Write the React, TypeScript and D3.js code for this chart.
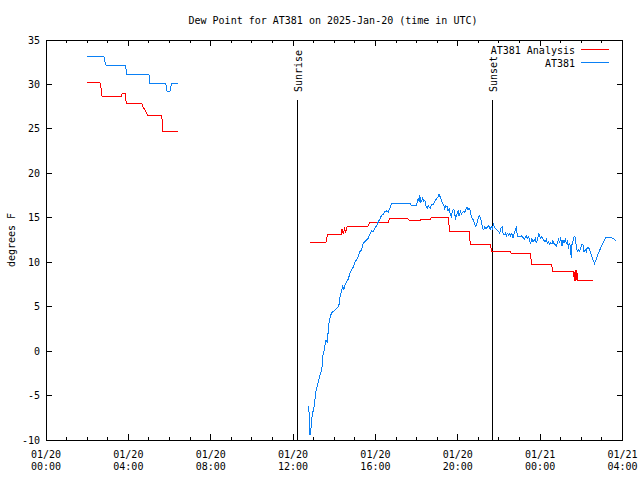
import React, { useEffect } from "react";
import * as d3 from "d3";

// ---- Data (hours since 2025-01-20 00:00 UTC, dew point °F) ----
const analysisSeg1: [number, number][] = [
  [2.0, 30.24], [2.62, 30.24], [2.66, 29.8], [2.72, 28.67], [3.66, 28.67], [3.7, 28.96],
  [3.84, 28.96], [3.9, 27.88], [4.65, 27.88], [4.72, 27.4], [4.82, 27.1], [4.92, 26.56],
  [5.62, 26.56], [5.68, 24.76], [6.39, 24.76],
];
const analysisSeg2: [number, number][] = [
  [12.82, 12.24], [13.6, 12.24], [13.66, 13.0], [13.71, 13.14], [14.33, 13.14], [14.38, 13.74],
  [14.44, 13.2], [14.5, 13.74], [14.56, 13.35], [14.63, 14.07], [15.64, 14.07], [15.73, 14.49],
  [16.62, 14.49], [16.7, 14.94], [17.56, 14.94], [17.62, 14.75], [17.8, 14.67], [18.16, 14.67],
  [18.19, 14.82], [18.67, 14.82], [18.72, 15.05], [19.53, 15.05], [19.61, 13.44], [20.55, 13.44],
  [20.61, 12.01], [21.58, 12.01], [21.65, 11.23], [22.55, 11.23], [22.6, 10.93], [23.52, 10.93],
  [23.6, 9.8], [24.54, 9.8], [24.62, 8.98], [25.62, 8.98], [25.66, 7.9], [25.7, 9.1],
  [25.74, 7.9], [25.78, 9.1], [25.82, 7.89], [26.59, 7.89],
];
const stationSeg1: [number, number][] = [
  [2.0, 33.1], [2.82, 33.1], [2.86, 32.6], [2.92, 32.1], [3.87, 32.1], [3.92, 31.1],
  [5.0, 31.1], [5.05, 30.1], [5.82, 30.1], [5.88, 29.2], [6.02, 29.2], [6.1, 30.1], [6.39, 30.1],
];
const stationSeg2: [number, number][] = [
  [12.74, -6.17], [12.78, -7.0], [12.82, -9.44], [12.87, -8.69], [12.9, -7.75], [12.95, -7.0],
  [13.02, -6.25], [13.07, -5.31], [13.11, -4.49], [13.18, -3.93], [13.24, -3.25], [13.31, -2.69],
  [13.36, -2.31], [13.41, -1.75], [13.45, -0.44], [13.5, -0.06], [13.55, 0.69], [13.6, 1.25],
  [13.65, 1.06], [13.68, 0.88], [13.71, 2.75], [13.76, 3.31], [13.81, 3.88], [13.87, 4.33],
  [13.95, 4.44], [14.04, 4.63], [14.12, 4.81], [14.2, 5.0], [14.25, 5.38], [14.28, 6.13],
  [14.36, 6.88], [14.41, 7.33], [14.47, 6.95], [14.52, 7.44], [14.6, 7.81], [14.68, 8.08],
  [14.76, 8.75], [14.84, 9.13], [14.92, 9.43], [15.01, 10.06], [15.09, 10.25], [15.17, 10.7],
  [15.25, 11.19], [15.33, 11.38], [15.41, 12.13], [15.49, 12.31], [15.57, 12.5], [15.65, 12.69],
  [15.73, 13.14], [15.81, 13.51], [15.89, 13.44], [15.98, 13.89], [16.06, 14.11], [16.14, 14.56],
  [16.22, 14.86], [16.3, 15.31], [16.38, 15.39], [16.46, 15.69], [16.54, 15.76], [16.62, 15.61],
  [16.7, 16.06], [16.78, 16.63], [17.67, 16.63], [17.75, 16.36], [17.99, 16.36], [18.08, 17.19],
  [18.12, 16.81], [18.16, 17.56], [18.19, 16.63], [18.24, 16.89], [18.29, 17.19], [18.35, 16.81],
  [18.4, 17.0], [18.45, 16.36], [18.51, 16.06], [18.56, 16.36], [18.61, 16.14], [18.67, 16.06],
  [18.72, 16.44], [18.8, 16.51], [18.88, 16.81], [18.96, 17.11], [19.05, 17.38], [19.09, 17.64],
  [19.16, 17.26], [19.21, 17.0], [19.26, 16.63], [19.32, 16.36], [19.37, 15.99], [19.42, 16.36],
  [19.48, 16.25], [19.53, 15.76], [19.58, 15.99], [19.64, 15.39], [19.69, 15.13], [19.74, 15.76],
  [19.81, 15.99], [19.85, 15.39], [19.9, 14.94], [19.97, 15.5], [20.02, 15.76], [20.06, 15.24],
  [20.13, 15.69], [20.18, 15.39], [20.23, 15.61], [20.29, 15.76], [20.34, 15.61], [20.39, 15.99],
  [20.45, 16.14], [20.5, 15.88], [20.55, 16.06], [20.61, 15.76], [20.66, 15.13], [20.71, 14.94],
  [20.78, 14.64], [20.82, 14.26], [20.87, 14.0], [20.94, 14.49], [20.99, 14.94], [21.03, 15.24],
  [21.1, 15.01], [21.15, 14.56], [21.2, 13.81], [21.26, 13.63], [21.31, 14.0], [21.36, 13.81],
  [21.42, 13.89], [21.47, 14.11], [21.52, 14.0], [21.58, 13.74], [21.63, 14.0], [21.68, 13.81],
  [21.74, 14.26], [21.79, 13.89], [21.84, 13.74], [21.91, 13.63], [22.0, 13.44], [22.04, 13.25],
  [22.09, 13.81], [22.15, 14.0], [22.2, 13.25], [22.25, 13.06], [22.31, 13.25], [22.36, 12.95],
  [22.41, 13.25], [22.47, 13.06], [22.52, 13.18], [22.57, 12.95], [22.63, 13.25], [22.68, 12.69],
  [22.73, 13.18], [22.8, 13.63], [22.85, 14.08], [22.89, 12.95], [22.96, 12.95], [23.01, 12.88],
  [23.09, 12.95], [23.17, 12.8], [23.22, 12.58], [23.28, 12.8], [23.33, 12.95], [23.38, 12.69],
  [23.44, 12.88], [23.49, 12.43], [23.54, 12.13], [23.6, 12.69], [23.65, 12.31], [23.7, 12.43],
  [23.77, 12.69], [23.81, 12.2], [23.86, 12.5], [23.93, 13.18], [23.98, 12.95], [24.02, 12.69],
  [24.09, 12.88], [24.14, 12.58], [24.19, 12.43], [24.25, 12.31], [24.3, 12.58], [24.35, 12.13],
  [24.41, 12.31], [24.46, 12.05], [24.51, 12.2], [24.57, 12.05], [24.62, 12.43], [24.67, 12.13],
  [24.74, 11.94], [24.78, 11.83], [24.83, 12.13], [24.9, 12.58], [24.95, 12.13], [24.99, 12.88],
  [25.06, 11.83], [25.11, 12.5], [25.16, 12.13], [25.22, 12.58], [25.27, 12.13], [25.32, 12.31],
  [25.38, 11.75], [25.43, 12.13], [25.48, 11.56], [25.51, 10.44], [25.54, 11.94], [25.59, 12.31],
  [25.64, 12.8], [25.69, 12.95], [25.75, 11.94], [25.8, 11.19], [25.87, 11.38], [25.92, 11.19],
  [25.96, 11.56], [26.03, 12.05], [26.08, 11.94], [26.13, 11.19], [26.19, 11.38], [26.24, 11.19],
  [26.29, 11.68], [26.35, 11.68], [26.4, 11.38], [26.45, 11.08], [26.51, 10.63], [26.56, 10.33],
  [26.64, 9.88], [26.72, 10.33], [26.8, 10.81], [26.88, 11.3], [26.97, 11.75], [27.05, 12.13],
  [27.13, 12.58], [27.21, 12.8], [27.37, 12.8], [27.53, 12.69], [27.69, 12.43],
];
const sunEventNames = ["Sunrise", "Sunset"];
const sunEventHours = [12.21, 21.71];
const yTickValues = [-10, -5, 0, 5, 10, 15, 20, 25, 30, 35];
const seriesNames = ["AT381 Analysis", "AT381"];
const seriesColors = ["#ff0000", "#0a80f5"];

const BASE = Date.UTC(2025, 0, 20);
const toDate = (h: number) => new Date(BASE + h * 3600000);

const W = 640, H = 480;
const L = 46, R = 622.5, T = 40, B = 440;
const FONT = "'DejaVu Sans Mono', 'Liberation Mono', monospace";

export default function App() {
  useEffect(() => {
    document.body.style.margin = "0";
  }, []);

  const x = d3.scaleUtc().domain([toDate(0), toDate(28)]).range([L, R]);
  const y = d3.scaleLinear().domain([-10, 35]).range([B, T]);

  const line = d3
    .line<[number, number]>()
    .x((d) => x(toDate(d[0])))
    .y((d) => y(d[1]))
    .curve(d3.curveLinear);

  const majorTicks = x.ticks(d3.utcHour.every(4)!);
  const minorTicks = x.ticks(d3.utcHour.every(1)!).filter((t) => t.getUTCHours() % 4 !== 0);
  const fmtDate = d3.utcFormat("%m/%d");
  const fmtTime = d3.utcFormat("%H:%M");

  const segs = [
    { data: analysisSeg1, color: seriesColors[0] },
    { data: analysisSeg2, color: seriesColors[0] },
    { data: stationSeg1, color: seriesColors[1] },
    { data: stationSeg2, color: seriesColors[1] },
  ];

  return (
    <svg
      width={W}
      height={H}
      style={{ position: "absolute", left: 0, top: 0, background: "#fff" }}
      fontFamily={FONT}
      fontSize={10}
    >
      <rect x={0} y={0} width={W} height={H} fill="#fff" />
      <text x={333} y={23.5} textAnchor="middle" fill="#000">
        Dew Point for AT381 on 2025-Jan-20 (time in UTC)
      </text>

      {/* y ticks */}
      {yTickValues.map((v) => (
        <g key={"y" + v}>
          <line x1={L} x2={L + 6} y1={y(v)} y2={y(v)} stroke="#000" shapeRendering="crispEdges" />
          <line x1={R - 6} x2={R} y1={y(v)} y2={y(v)} stroke="#000" shapeRendering="crispEdges" />
          <text x={40} y={y(v) + 3.5} textAnchor="end" fill="#000">
            {v}
          </text>
        </g>
      ))}

      {/* x ticks */}
      {majorTicks.map((t) => (
        <g key={"xm" + t.getTime()}>
          <line x1={x(t)} x2={x(t)} y1={B} y2={B - 6} stroke="#000" shapeRendering="crispEdges" />
          <line x1={x(t)} x2={x(t)} y1={T} y2={T + 6} stroke="#000" shapeRendering="crispEdges" />
          <text x={x(t)} y={458} textAnchor="middle" fill="#000">
            {fmtDate(t)}
          </text>
          <text x={x(t)} y={470} textAnchor="middle" fill="#000">
            {fmtTime(t)}
          </text>
        </g>
      ))}
      {minorTicks.map((t) => (
        <g key={"xn" + t.getTime()}>
          <line x1={x(t)} x2={x(t)} y1={B} y2={B - 3} stroke="#000" shapeRendering="crispEdges" />
          <line x1={x(t)} x2={x(t)} y1={T} y2={T + 3} stroke="#000" shapeRendering="crispEdges" />
        </g>
      ))}

      {/* y label */}
      <text transform={`translate(15,240) rotate(-90)`} textAnchor="middle" fill="#000">
        degrees F
      </text>

      {/* sunrise / sunset */}
      {sunEventHours.map((h, i) => {
        const px = x(toDate(h));
        return (
          <g key={sunEventNames[i]}>
            <line x1={px} x2={px} y1={100} y2={B} stroke="#000" shapeRendering="crispEdges" />
            <text transform={`translate(${px + 4.5},92) rotate(-90)`} textAnchor="start" fill="#000">
              {sunEventNames[i]}
            </text>
          </g>
        );
      })}

      {/* series */}
      {segs.map((s, i) => (
        <path
          key={i}
          d={line(s.data) || ""}
          fill="none"
          stroke={s.color}
          strokeWidth={1}
          shapeRendering="crispEdges"
        />
      ))}

      {/* legend */}
      {seriesNames.map((n, i) => (
        <g key={n}>
          <text x={575} y={54 + i * 13} textAnchor="end" fill="#000">
            {n}
          </text>
          <line x1={581} x2={609} y1={49.5 + i * 13} y2={49.5 + i * 13} stroke={seriesColors[i]} shapeRendering="crispEdges" />
        </g>
      ))}

      {/* frame */}
      <rect x={L} y={T} width={R - L} height={B - T} fill="none" stroke="#000" shapeRendering="crispEdges" />
    </svg>
  );
}
